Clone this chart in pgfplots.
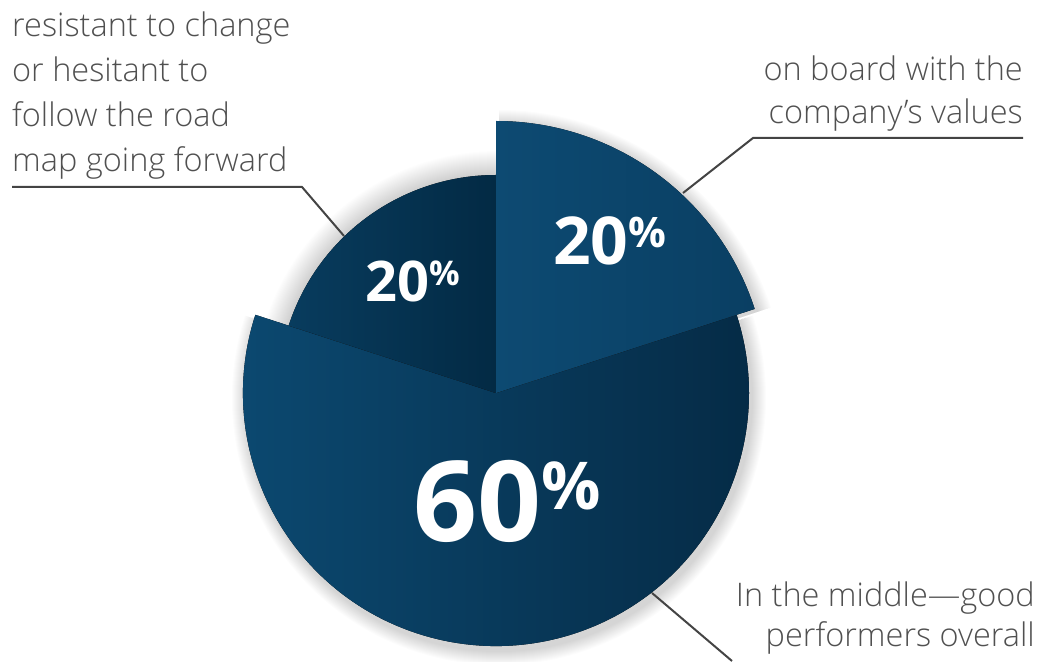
\documentclass[border=0pt]{standalone}
\usepackage{pgfplots}
\usepackage{pgfplotstable}
\pgfplotsset{compat=1.18}
\usepackage{fontspec}
\setmainfont{Open Sans}
\IfFontExistsTF{Open Sans Light}{\newfontfamily\lightfont{Open Sans Light}}{\newfontfamily\lightfont{Open Sans}}

\definecolor{txt}{HTML}{505050}
\definecolor{leader}{HTML}{444444}
\definecolor{bigL}{HTML}{0C4A72}
\definecolor{bigM}{HTML}{135B8A}
\definecolor{bigR}{HTML}{052B46}
\definecolor{lftA}{HTML}{083C5E}
\definecolor{lftB}{HTML}{032A44}
\definecolor{rgtA}{HTML}{0D4A72}
\definecolor{rgtM}{HTML}{1A699C}
\definecolor{rgtB}{HTML}{0A3F63}

% share (percent) and outer radius of each slice, counter-clockwise from 12 o'clock
\pgfplotstableread{
share radius
20 218
60 253
20 272
}\slices

\pgfplotstablegetelem{0}{share}\of\slices\edef\sA{\pgfplotsretval}
\pgfplotstablegetelem{1}{share}\of\slices\edef\sB{\pgfplotsretval}
\pgfplotstablegetelem{2}{share}\of\slices\edef\sC{\pgfplotsretval}
\pgfplotstablegetelem{0}{radius}\of\slices\edef\rA{\pgfplotsretval}
\pgfplotstablegetelem{1}{radius}\of\slices\edef\rB{\pgfplotsretval}
\pgfplotstablegetelem{2}{radius}\of\slices\edef\rC{\pgfplotsretval}
\pgfmathsetmacro\aO{90}
\pgfmathsetmacro\aA{\aO+3.6*\sA}
\pgfmathsetmacro\aB{\aA+3.6*\sB}
\pgfmathsetmacro\aC{\aB+3.6*\sC}

\def\cx{496}\def\cy{-393}

% sector path: start angle, end angle, radius (pt), dx, dy
\newcommand\sector[5]{(axis cs:\cx+#4,\cy+#5) -- ++({#1}:{#3}) arc[start angle={#1},end angle={#2},radius={#3}] -- cycle}

\begin{document}
\begin{tikzpicture}
\begin{axis}[
  x=1pt, y=1pt,
  xmin=0, xmax=1040, ymin=-661, ymax=0,
  axis lines=none, ticks=none,
  clip=false, scale only axis,
]
% soft shadows
\pgfplotsinvokeforeach{1,...,26}{
  \fill[black, opacity=0.009] \sector{\aO}{\aA}{(\rA+#1)*1pt}{2}{-2};
}
\pgfplotsinvokeforeach{1,...,14}{
  \fill[black, opacity=0.013] \sector{\aA}{\aB}{(\rB+#1)*1pt}{3}{-5};
  \fill[black, opacity=0.010] \sector{\aB}{\aC}{(\rC+#1)*1pt}{3}{-3};
}
% slices
\fill[left color=bigL, middle color=bigM, right color=bigR]
  \sector{\aA}{\aB}{\rB*1pt}{0}{0};
\fill[shading angle=-45, left color=lftA, right color=lftB]
  \sector{\aO}{\aA}{\rA*1pt}{0}{0};
\fill[shading angle=-45, left color=rgtA, middle color=rgtM, right color=rgtB]
  \sector{\aB}{\aC}{\rC*1pt}{0}{0};

% leader lines
\draw[leader, line width=2pt] (axis cs:12,-187) -- (axis cs:302,-187) -- (axis cs:344,-236);
\draw[leader, line width=2pt] (axis cs:1023,-138) -- (axis cs:753,-138) -- (axis cs:683,-193);
\draw[leader, line width=2pt] (axis cs:652,-593) -- (axis cs:732,-661);

% labels
\begin{scope}[every node/.style={text=txt, inner sep=0, font=\lightfont\fontsize{32.5}{34}\selectfont}]
\node[anchor=base west] at (axis cs:12,-37) {resistant to change};
\node[anchor=base west] at (axis cs:12,-82) {or hesitant to};
\node[anchor=base west] at (axis cs:12,-127) {follow the road};
\node[anchor=base west] at (axis cs:12,-172) {map going forward};
\node[anchor=base east] at (axis cs:1023,-81) {on board with the};
\node[anchor=base east] at (axis cs:1023,-124) {company’s values};
\node[anchor=base east] at (axis cs:1035,-606) {In the middle—good};
\node[anchor=base east] at (axis cs:1035,-646) {performers overall};
\end{scope}

% percentages
\node[anchor=base west, inner sep=0, text=white, font=\bfseries\fontsize{56}{56}\selectfont]
  at (axis cs:365,-302) {20\raisebox{16pt}{\fontsize{34}{34}\selectfont\%}};
\node[anchor=base west, inner sep=0, text=white, font=\bfseries\fontsize{66}{66}\selectfont]
  at (axis cs:553,-265) {20\raisebox{17pt}{\fontsize{42}{42}\selectfont\%}};
\node[anchor=base west, inner sep=0, text=white, font=\bfseries\fontsize{112}{112}\selectfont]
  at (axis cs:413,-541) {60\raisebox{32pt}{\fontsize{66}{66}\selectfont\%}};
\end{axis}
\pgfresetboundingbox
\path (current axis.south west) rectangle (current axis.north east);
\end{tikzpicture}
\end{document}
